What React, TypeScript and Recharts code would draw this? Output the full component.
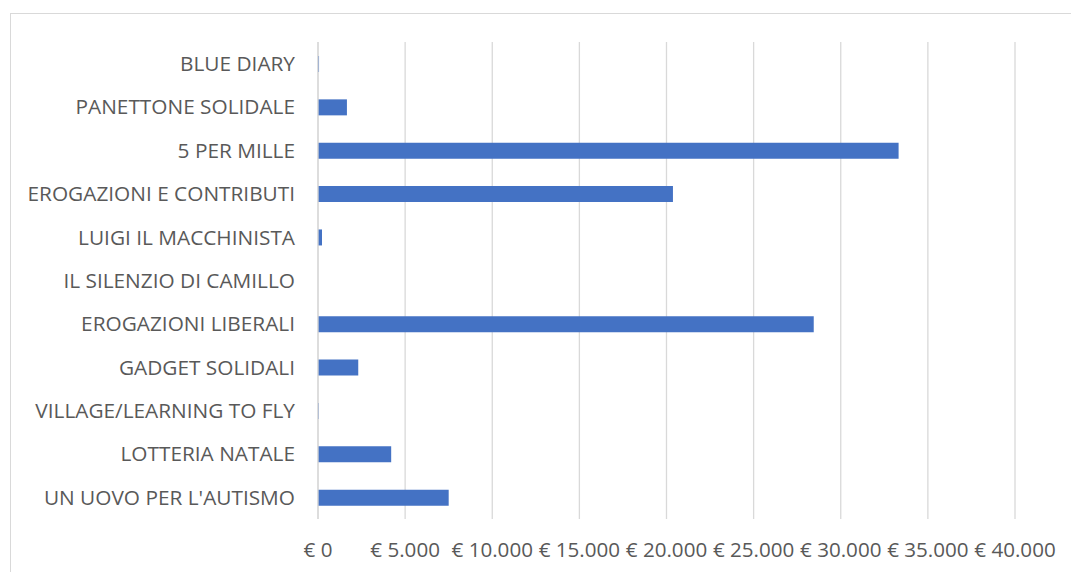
import React from 'react';
import { BarChart, Bar, XAxis, YAxis, CartesianGrid } from 'recharts';

const categories = [
  'BLUE DIARY',
  'PANETTONE SOLIDALE',
  '5 PER MILLE',
  'EROGAZIONI E CONTRIBUTI',
  'LUIGI IL MACCHINISTA',
  'IL SILENZIO DI CAMILLO',
  'EROGAZIONI LIBERALI',
  'GADGET SOLIDALI',
  'VILLAGE/LEARNING TO FLY',
  'LOTTERIA NATALE',
  "UN UOVO PER L'AUTISMO",
];

const amounts = [60, 1660, 33320, 20370, 230, 0, 28450, 2310, 40, 4200, 7500];

const xTicks = [0, 5000, 10000, 15000, 20000, 25000, 30000, 35000, 40000];

const data = categories.map((name, i) => ({ name, value: amounts[i] }));

const euro = (v: number) => '€ ' + v.toLocaleString('de-DE');

const font = '"Open Sans", sans-serif';

const App: React.FC = () => {
  return (
    <div style={{ position: 'absolute', left: 0, top: 0, width: 1071, height: 572, overflow: 'hidden', background: '#fff' }}>
      <div
        style={{
          position: 'absolute',
          left: 10,
          top: 13,
          width: 1061,
          height: 559,
          borderLeft: '1px solid #d9d9d9',
          borderTop: '1px solid #d9d9d9',
        }}
      />
      <div style={{ position: 'absolute', left: 0, top: 0 }}>
        <BarChart
          width={1071}
          height={572}
          data={data}
          layout="vertical"
          margin={{ top: 42, right: 56, left: 0, bottom: 0 }}
          barCategoryGap="32%"
        >
          <CartesianGrid horizontal={false} stroke="#d9d9d9" strokeWidth={1.3} />
          <XAxis
            type="number"
            domain={[0, 40000]}
            ticks={xTicks}
            interval={0}
            tickFormatter={euro}
            axisLine={false}
            tickLine={false}
            tickSize={0}
            tickMargin={23}
            height={53}
            tick={{ fill: '#595959', fontSize: 20.6, fontFamily: font }}
          />
          <YAxis
            type="category"
            dataKey="name"
            width={318}
            interval={0}
            axisLine={{ stroke: '#d9d9d9', strokeWidth: 1.3 }}
            tickLine={false}
            tickSize={0}
            tickMargin={23}
            tick={{ fill: '#595959', fontSize: 20.8, fontFamily: font }}
          />
          <Bar dataKey="value" fill="#4472C4" barSize={16} isAnimationActive={false} />
        </BarChart>
      </div>
    </div>
  );
};

export default App;
